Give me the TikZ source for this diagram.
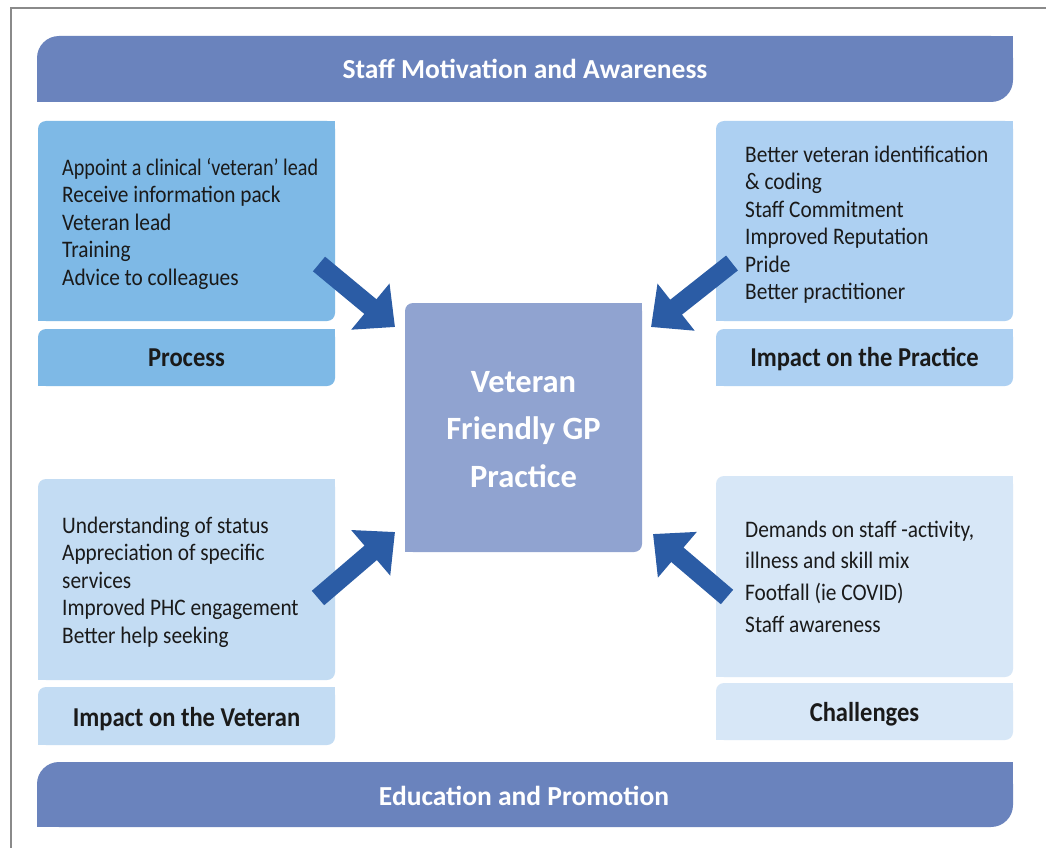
\documentclass[tikz,border=0pt]{standalone}
\usepackage{fontspec}
\setmainfont{Carlito}[FakeStretch=0.9]
\newfontfamily\widefont{Carlito}
\usetikzlibrary{arrows.meta,calc}
\definecolor{ban}{HTML}{6A83BD}
\definecolor{boxa}{HTML}{7EB9E6}
\definecolor{boxb}{HTML}{ADD0F2}
\definecolor{boxc}{HTML}{C3DCF3}
\definecolor{boxd}{HTML}{D7E7F7}
\definecolor{cen}{HTML}{90A3D0}
\definecolor{arr}{HTML}{2B5CA5}
\definecolor{txt}{HTML}{1A1A1A}
\definecolor{framec}{HTML}{8A8A8A}
\newcommand\sqc[3]{%
  \fill[#2] (#1.north east) rectangle ++(-#3,-#3);
  \fill[#2] (#1.south west) rectangle ++(#3,#3);}
\begin{document}
\begin{tikzpicture}[x=1pt,y=-1pt,
  box/.style={inner sep=0pt, outer sep=0pt, anchor=north west, rounded corners=8pt},
  body/.style={inner sep=0pt, anchor=north west, align=left, text=txt,
    font=\fontsize{23.7}{27.5}\selectfont},
  lab/.style={inner sep=0pt, anchor=base, text=txt,
    font=\fontsize{27.3}{30}\selectfont\bfseries},
  bantext/.style={inner sep=0pt, anchor=base, text=white,
    font=\widefont\fontsize{27.5}{30}\selectfont\bfseries},
  bigarrow/.style={draw=arr, line width=19pt, -{Triangle[length=32pt,width=58pt]}},
]
\useasboundingbox (0,0) rectangle (1046,848);
\fill[white] (0,0) rectangle (1046,848);
\draw[framec, line width=1.5pt] (11,848) -- (11,8) -- (1046,8);

% banners
\node[box, rounded corners=22pt, fill=ban, minimum width=976pt, minimum height=66pt] (topb) at (37,36) {};
\sqc{topb}{ban}{22pt}
\node[box, rounded corners=22pt, fill=ban, minimum width=976pt, minimum height=65pt] (botb) at (37,762) {};
\sqc{botb}{ban}{22pt}

% quadrant boxes
\node[box, fill=boxa, minimum width=297pt, minimum height=200pt] (p1) at (38,121) {};
\sqc{p1}{boxa}{8pt}
\node[box, fill=boxa, minimum width=297pt, minimum height=57pt] (p1l) at (38,329) {};
\sqc{p1l}{boxa}{8pt}
\node[box, fill=boxb, minimum width=297pt, minimum height=200pt] (p2) at (716,121) {};
\sqc{p2}{boxb}{8pt}
\node[box, fill=boxb, minimum width=297pt, minimum height=57pt] (p2l) at (716,329) {};
\sqc{p2l}{boxb}{8pt}
\node[box, fill=boxc, minimum width=297pt, minimum height=201pt] (v1) at (38,479) {};
\sqc{v1}{boxc}{8pt}
\node[box, fill=boxc, minimum width=297pt, minimum height=58pt] (v1l) at (38,687) {};
\sqc{v1l}{boxc}{8pt}
\node[box, fill=boxd, minimum width=297pt, minimum height=201pt] (c1) at (716,476) {};
\sqc{c1}{boxd}{8pt}
\node[box, fill=boxd, minimum width=297pt, minimum height=57pt] (c1l) at (716,683) {};
\sqc{c1l}{boxd}{8pt}

% hub
\node[box, fill=cen, minimum width=237pt, minimum height=249pt] (hub) at (405,303) {};
\sqc{hub}{cen}{8pt}

% texts
\node[bantext] (topt) at (525,79) {Staff Motivation and Awareness};
\node[bantext] (bott) at (524,805) {Education and Promotion};

\node[inner sep=0pt, anchor=north, align=center, text=white,
  font=\widefont\fontsize{32.5}{47.5}\selectfont\bfseries] (hubt) at (523.5,366)
  {\rule{0pt}{26pt}Veteran\\Friendly GP\\Practice};

\node[body] (p1t) at (62,156) {\rule{0pt}{19pt}\scalebox{0.945}[1]{Appoint a clinical ‘veteran’ lead}\\Receive information pack\\Veteran lead\\Training\\Advice to colleagues};
\node[body] (p2t) at (745,143) {\rule{0pt}{19pt}Better veteran identification\\\& coding\\Staff Commitment\\Improved Reputation\\Pride\\Better practitioner};
\node[body] (v1t) at (62,514) {\rule{0pt}{19pt}Understanding of status\\Appreciation of specific\\services\\Improved PHC engagement\\Better help seeking};
\node[body, font=\fontsize{23.7}{31.6}\selectfont] (c1t) at (745,518) {\rule{0pt}{19pt}Demands on staff -activity,\\illness and skill mix\\Footfall (ie COVID)\\Staff awareness};

\node[lab] (p1lt) at (186.5,366) {Process};
\node[lab] (p2lt) at (864.5,366) {Impact on the Practice};
\node[lab] (v1lt) at (186.5,726) {Impact on the Veteran};
\node[lab] (c1lt) at (864.5,721) {Challenges};

% arrows
\coordinate (a1s) at ($(p1.south east)+(-16,-57)$);
\coordinate (a1e) at ($(hub.north west)+(-10,24)$);
\coordinate (a2s) at ($(p2.south west)+(16,-58)$);
\coordinate (a2e) at ($(hub.north east)+(9,24)$);
\coordinate (a3s) at ($(v1.north east)+(-17,119)$);
\coordinate (a3e) at ($(hub.south west)+(-10,-20)$);
\coordinate (a4s) at ($(c1.north west)+(11,121)$);
\coordinate (a4e) at ($(hub.south east)+(11,-18)$);
\draw[bigarrow] (a1s) -- (a1e);
\draw[bigarrow] (a2s) -- (a2e);
\draw[bigarrow] (a3s) -- (a3e);
\draw[bigarrow] (a4s) -- (a4e);
\end{tikzpicture}
\end{document}
